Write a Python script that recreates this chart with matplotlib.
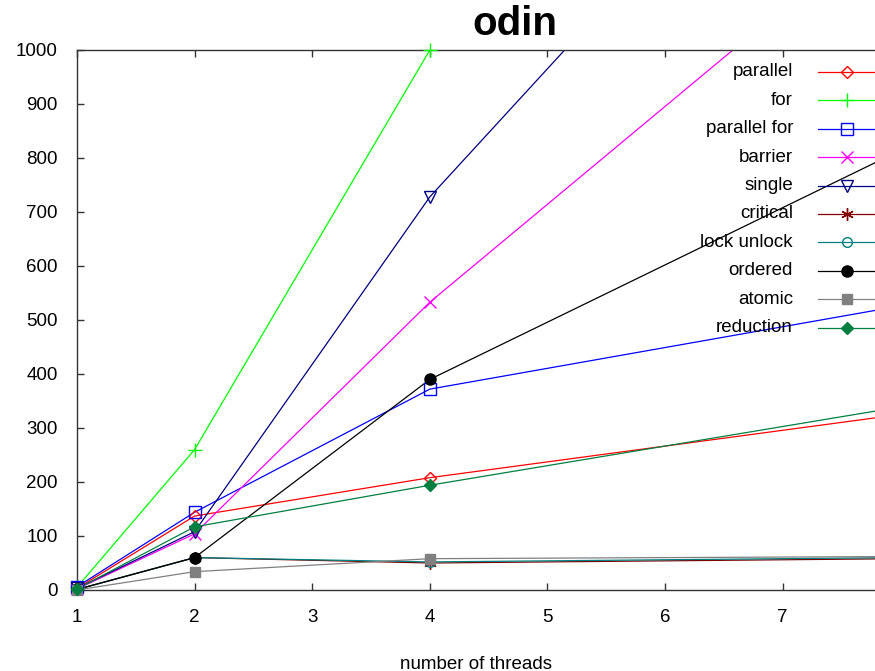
import numpy as np
import matplotlib.pyplot as plt

plt.rcParams['font.family'] = ['Liberation Sans', 'DejaVu Sans']

# openmp overhead benchmark on odin
threads = [1, 2, 4, 8]
names = ["parallel", "for", "parallel for", "barrier", "single",
         "critical", "lock unlock", "ordered", "atomic", "reduction"]
parallel = [3, 137, 208, 325]
for_ = [5, 260, 1000, 1900]
parallel_for = [6, 144, 372, 526]
barrier = [2, 104, 533, 1258]
single = [3, 108, 728, 1677]
critical = [1, 60, 50, 58]
lock_unlock = [1, 60, 52, 60]
ordered = [1, 60, 390, 814]
atomic = [0, 34, 58, 62]
reduction = [2, 117, 194, 339]

series = [parallel, for_, parallel_for, barrier, single,
          critical, lock_unlock, ordered, atomic, reduction]
colors = ["#ff0000", "#00ff00", "#0000ff", "#ff00ff", "#000080",
          "#800000", "#008080", "#000000", "#808080", "#008040"]
markers = ["D", "+", "s", "x", "v", (6, 2, 0), "o", "o", "s", "D"]
filled = [False, True, False, True, False, True, False, True, True, True]
msizes = [6, 10, 8, 9, 8, 9, 7, 8, 7, 6]

xlim = (1, 7.785)
ylim = (0, 1000)
fs = 13.5

fig = plt.figure(figsize=(8.75, 6.71), dpi=100)
ax = fig.add_axes([77 / 875, 81 / 671, 798 / 875, 540 / 671])

for vals, c, m, f, ms in zip(series, colors, markers, filled, msizes):
    ax.plot(threads, vals, color=c, lw=0.9)
    # markers drawn unclipped so the ones sitting on the axis show fully
    pts = [(x, y) for x, y in zip(threads, vals)
           if xlim[0] <= x <= xlim[1] and ylim[0] <= y <= ylim[1]]
    px, py = zip(*pts)
    ax.plot(px, py, ls="none", marker=m, ms=ms, color=c,
            mfc=c if f else "none", mec=c, mew=1.0, clip_on=False, zorder=3)

ax.set_xlim(*xlim)
ax.set_ylim(*ylim)
ax.set_xticks([1, 2, 3, 4, 5, 6, 7])
ax.set_yticks(np.arange(0, 1001, 100))
ax.tick_params(direction="in", length=5, width=1, colors="#333333",
               labelcolor="black", labelsize=fs, top=True)
ax.tick_params(axis="x", pad=14)
ax.tick_params(axis="y", pad=14)
for s in ["left", "top", "bottom"]:
    ax.spines[s].set_color("#333333")
    ax.spines[s].set_linewidth(1)
ax.spines["right"].set_visible(False)

ax.set_xlabel("number of threads", fontsize=fs, labelpad=21)
fig.text(515 / 875, 1 - 24 / 671, "odin", fontsize=29, fontweight="bold",
         ha="center", va="center")

# key in the upper right, label left of the sample line
def ax_x(p):
    return (p - 77) / 798

def ax_y(p):
    return (590 - p) / 540

for i, (name, c, m, f, ms) in enumerate(zip(names, colors, markers, filled, msizes)):
    yy = ax_y(72 + 28.4 * i)
    ax.text(ax_x(793), yy, name, ha="right", va="center", fontsize=fs,
            transform=ax.transAxes)
    ax.plot([ax_x(818), ax_x(880)], [yy, yy], color=c, lw=0.9,
            transform=ax.transAxes, clip_on=False)
    ax.plot([ax_x(847)], [yy], ls="none", marker=m, ms=ms, color=c,
            mfc=c if f else "none", mec=c, mew=1.0,
            transform=ax.transAxes, clip_on=False)

fig.savefig("out.png", dpi=100)
